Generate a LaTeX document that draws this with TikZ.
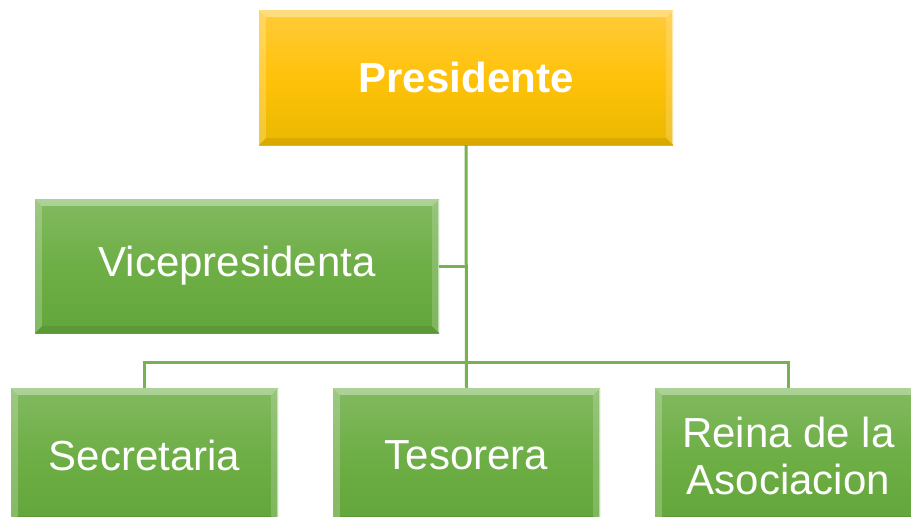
\documentclass[tikz,border=0pt]{standalone}
\usepackage{fontspec}
\setmainfont{Liberation Sans}
\definecolor{lineg}{RGB}{120,177,80}
\definecolor{gtop}{RGB}{130,186,96}
\definecolor{gmid}{RGB}{110,174,70}
\definecolor{gbot}{RGB}{98,166,58}
\definecolor{ytop}{RGB}{255,203,58}
\definecolor{ymid}{RGB}{255,194,10}
\definecolor{ybot}{RGB}{235,184,0}
\tikzset{
  box/.style={inner sep=0pt, text=white, align=center,
    font=\fontsize{42}{47}\selectfont},
  greenbox/.style={box, top color=gtop, bottom color=gbot, middle color=gmid},
  goldbox/.style={box, top color=ytop, bottom color=ybot, middle color=ymid,
    font=\fontsize{42}{47}\selectfont\bfseries},
  conn/.style={draw=lineg, line width=3pt},
}
\newcommand{\bevel}[1]{%
  \fill[white, opacity=0.35] (#1.north west) -- (#1.north east) -- ([shift={(-7,7)}]#1.north east) -- ([shift={(7,7)}]#1.north west) -- cycle;
  \fill[white, opacity=0.22] (#1.north west) -- ([shift={(7,7)}]#1.north west) -- ([shift={(7,-7)}]#1.south west) -- (#1.south west) -- cycle;
  \fill[white, opacity=0.18] (#1.north east) -- ([shift={(-7,7)}]#1.north east) -- ([shift={(-7,-7)}]#1.south east) -- (#1.south east) -- cycle;
  \fill[black, opacity=0.08] (#1.south west) -- ([shift={(7,-7)}]#1.south west) -- ([shift={(-7,-7)}]#1.south east) -- (#1.south east) -- cycle;
  \draw[white, opacity=0.5, line width=1pt] ([shift={(-1,1)}]#1.north east) -- ([shift={(-1,-1)}]#1.south east);
}
\begin{document}
\begin{tikzpicture}[x=1pt, y=-1pt]
  \useasboundingbox (0,0) rectangle (911,517);
  \clip (0,0) rectangle (911,517);
  \node[goldbox, minimum width=414pt, minimum height=135pt] (pres) at (466,77.5) {Presidente};
  \node[greenbox, minimum width=404pt, minimum height=134pt] (vice) at (237,266) {Vicepresidenta};
  \node[greenbox, minimum width=267pt, minimum height=135pt] (sec) at (144.5,455.5) {Secretaria};
  \node[greenbox, minimum width=267pt, minimum height=135pt] (tes) at (466.5,455.5) {Tesorera};
  \node[greenbox, minimum width=267pt, minimum height=135pt] (reina) at (788.5,455.5) {Reina de la\\Asociacion};
  \coordinate (bar) at (466.5,362);
  \draw[conn] (pres.south) -- (tes.north);
  \draw[conn] (vice.east) -- (vice.east -| pres.south);
  \draw[conn] (sec.north) |- (bar) -| (reina.north);
  \bevel{pres}
  \bevel{vice}
  \bevel{sec}
  \bevel{tes}
  \bevel{reina}
\end{tikzpicture}
\end{document}
